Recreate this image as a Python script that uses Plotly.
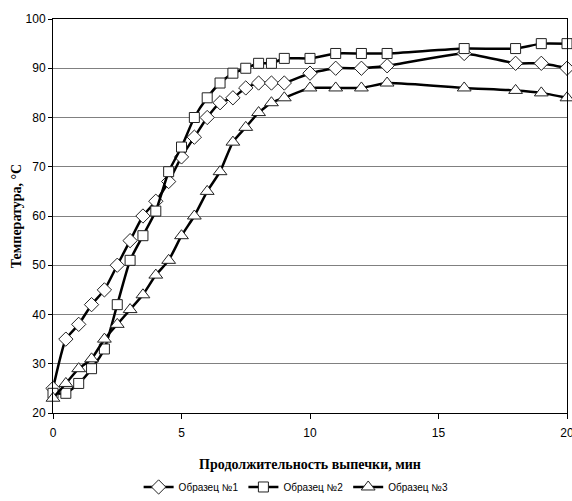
import plotly.graph_objects as go

time_min = [0, 0.5, 1, 1.5, 2, 2.5, 3, 3.5, 4, 4.5, 5, 5.5, 6, 6.5, 7, 7.5, 8, 8.5, 9, 10, 11, 12, 13, 16, 18, 19, 20]
sample1 = [25, 35, 38, 42, 45, 50, 55, 60, 63, 67, 72, 76, 80, 83, 84, 86, 87, 87, 87, 89, 90, 90, 90.5, 93, 91, 91, 90]
sample2 = [24, 24, 26, 29, 33, 42, 51, 56, 61, 69, 74, 80, 84, 87, 89, 90, 91, 91, 92, 92, 93, 93, 93, 94, 94, 95, 95]
sample3 = [23, 26, 29, 31, 35, 38, 41, 44, 48, 51, 56, 60, 65, 69, 75, 78, 81, 83, 84, 86, 86, 86, 87, 86, 85.5, 85, 84]
names = ["Образец №1", "Образец №2", "Образец №3"]
symbols = ["diamond", "square", "triangle-up"]
sizes = [11, 10, 12]

fig = go.Figure()
for name, ys, sym, sz in zip(names, [sample1, sample2, sample3], symbols, sizes):
    fig.add_trace(go.Scatter(
        x=time_min, y=ys, name=name, mode="lines+markers", cliponaxis=False,
        line=dict(color="black", width=2.5, shape="spline", smoothing=0.5),
        marker=dict(symbol=sym, size=sz, color="white", line=dict(color="#222", width=1)),
    ))

fig.update_layout(
    width=572, height=501,
    margin=dict(l=53, r=5, t=19, b=88),
    paper_bgcolor="white", plot_bgcolor="white",
    font=dict(family="Liberation Sans, Arial", size=12, color="black"),
    showlegend=True,
    legend=dict(orientation="h", x=0.473, xanchor="center",
                yref="container", y=0.028, yanchor="middle",
                font=dict(size=10, family="Liberation Sans, Arial"),
                itemwidth=30, tracegroupgap=0),
)
fig.update_xaxes(
    range=[0, 20], tickvals=[0, 5, 10, 15, 20], showgrid=False, automargin=False,
    showline=True, linecolor="black", linewidth=1, mirror=True,
    ticks="outside", ticklen=5, tickcolor="black",
    ticklabelstandoff=4, ticklabeloverflow="allow",
    title=dict(text="<b>Продолжительность выпечки, мин</b>",
               font=dict(family="Liberation Serif, Times New Roman", size=14), standoff=19),
    zeroline=False,
)
fig.update_yaxes(
    range=[20, 100], tickvals=[20, 30, 40, 50, 60, 70, 80, 90, 100], automargin=False,
    showgrid=True, gridcolor="#808080", gridwidth=1,
    showline=True, linecolor="black", linewidth=1, mirror=True,
    ticks="outside", ticklen=4, tickcolor="black",
    title=dict(text="<b>Температура, °С</b>",
               font=dict(family="Liberation Serif, Times New Roman", size=14), standoff=0),
    zeroline=False,
)
fig.write_html("out.html", post_script="document.body.style.margin='0';",
               config={"displayModeBar": False})
